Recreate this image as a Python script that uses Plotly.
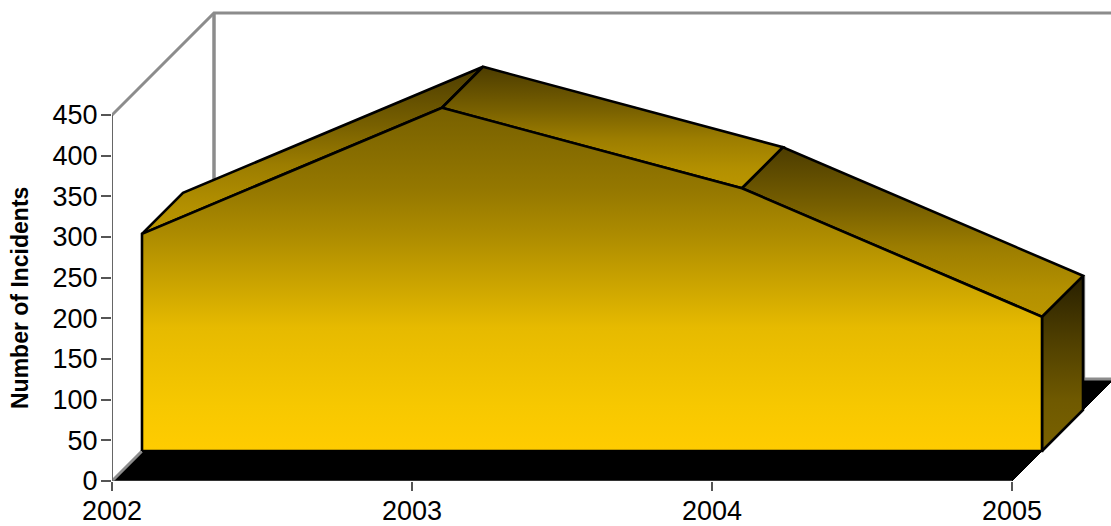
import plotly.graph_objects as go

years = [2002, 2003, 2004, 2005]
incidents = [267, 422, 323, 165]
y_ticks = [0, 50, 100, 150, 200, 250, 300, 350, 400, 450]

# pseudo 3d depth, in axis units (x in years, y in incidents)
FRONT_X, FRONT_Y = 0.1, 36.9
SOLID_X, SOLID_Y = 0.1367, 50.4
WALL_X, WALL_Y = 0.34, 125.4

X_MAX = 2002 + 999 / 300
Y_MAX = 481 / (366 / 450)

GRAY = '#8c8c8c'
FONT = 'Liberation Sans, Arial, sans-serif'

# gradient stops run from the bottom of a face to its top
TOP_SHADE = [[0, '#bb9600'], [0.16, '#b39000'], [0.41, '#9c7d00'], [0.65, '#786000'], [1, '#4c3c00']]
FRONT_SHADE = [[0, '#ffcc00'], [0.13, '#f7c800'], [0.36, '#e6ba00'], [0.615, '#b08e00'], [0.76, '#957800'], [1, '#776000']]
SIDE_SHADE = [[0, '#7a6200'], [0.29, '#6f5900'], [0.63, '#4f3f00'], [0.93, '#2f2500'], [1, '#2a2100']]


def front(x, y):
    return x + FRONT_X, y + FRONT_Y


def back(x, y):
    return x + FRONT_X + SOLID_X, y + FRONT_Y + SOLID_Y


def face(points, shade=None, fill=None):
    xs = [p[0] for p in points] + [points[0][0]]
    ys = [p[1] for p in points] + [points[0][1]]
    trace = go.Scatter(x=xs, y=ys, mode='lines', fill='toself',
                       line=dict(color='black', width=2.6, simplify=False),
                       hoverinfo='skip', showlegend=False, cliponaxis=True)
    if shade:
        trace.fillgradient = dict(type='vertical', colorscale=shade)
    else:
        trace.fillcolor = fill
    return trace


def wire(xs, ys, width=2.5, color=GRAY):
    return go.Scatter(x=xs, y=ys, mode='lines', line=dict(color=color, width=width),
                      hoverinfo='skip', showlegend=False, cliponaxis=False)


fig = go.Figure()

# floor
x0, x1 = years[0], years[-1]
floor = face([(x0, 0), (x1, 0), (x1 + WALL_X, WALL_Y), (x0 + WALL_X, WALL_Y)], fill='black')
floor.line.width = 1
fig.add_trace(floor)

# walls
fig.add_trace(wire([x0, x0 + WALL_X, X_MAX + 1], [450, 450 + WALL_Y, 450 + WALL_Y], 3))
fig.add_trace(wire([x0 + WALL_X, x0 + WALL_X], [450 + WALL_Y, WALL_Y], 3.5))
fig.add_trace(wire([x0, x0 + WALL_X, X_MAX + 1], [0, WALL_Y, WALL_Y], 3))
fig.add_trace(wire([x0, x0], [0, 450], 2, '#666666'))
fig.add_trace(wire([x0, x1], [0, 0], 1.2, '#666666'))

# thin gray edge showing behind the right end of the solid
edge_x = back(x1, 0)[0] + 0.004
fig.add_trace(wire([edge_x, edge_x], [WALL_Y, back(x1, incidents[-1])[1]], 2))

# right end of the solid
fig.add_trace(face([front(x1, 0), back(x1, 0), back(x1, incidents[-1]), front(x1, incidents[-1])],
                   shade=SIDE_SHADE))

# top faces
for i in range(len(years) - 1):
    a = (years[i], incidents[i])
    b = (years[i + 1], incidents[i + 1])
    fig.add_trace(face([front(*a), back(*a), back(*b), front(*b)], shade=TOP_SHADE))

# front face
outline = [front(x0, 0)] + [front(x, v) for x, v in zip(years, incidents)] + [front(x1, 0)]
fig.add_trace(face(outline, shade=FRONT_SHADE))

fig.add_annotation(x=x0, y=225, xref='x', yref='y', xshift=-92, text='<b>Number of Incidents</b>',
                   textangle=-90, showarrow=False, font=dict(family=FONT, size=23, color='black'))

fig.update_layout(
    width=1111, height=526, autosize=False,
    margin=dict(l=112, r=0, t=0, b=45),
    plot_bgcolor='white', paper_bgcolor='white',
    showlegend=False,
    font=dict(family=FONT, size=27, color='black'),
)
fig.update_xaxes(range=[x0, X_MAX], tickvals=years, ticks='outside', ticklen=9, tickcolor='#555555',
                 tickwidth=1.5, showgrid=False, zeroline=False, showline=False, automargin=False,
                 ticklabelstandoff=-3)
fig.update_yaxes(range=[0, Y_MAX], tickvals=y_ticks, ticks='outside', ticklen=10, tickcolor='#555555',
                 tickwidth=1.5, showgrid=False, zeroline=False, showline=False, automargin=False,
                 ticklabelstandoff=-2)

# drop the default page margin so the figure fills the window
fig.write_html("out.html", config={'displayModeBar': False},
               post_script="document.body.style.margin = '0';")
